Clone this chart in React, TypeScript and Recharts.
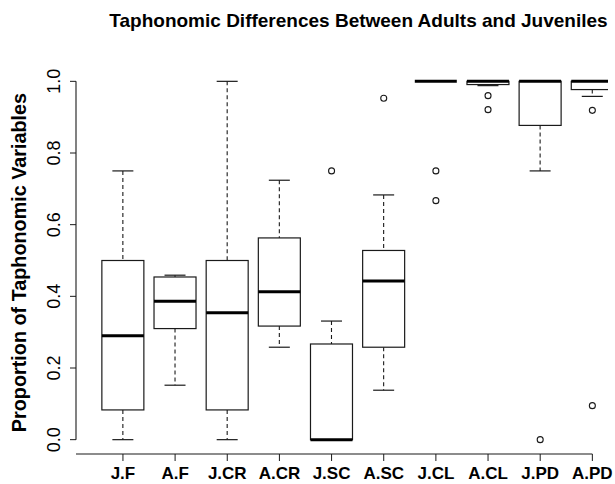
import { Bar, ComposedChart, Label, ReferenceLine, Scatter, XAxis, YAxis } from "recharts";

const categories = ["J.F", "A.F", "J.CR", "A.CR", "J.SC", "A.SC", "J.CL", "A.CL", "J.PD", "A.PD"];
const whiskerLow = [0, 0.152, 0, 0.258, 0, 0.138, 1, 0.988, 0.75, 0.958];
const lowerQuartile = [0.083, 0.31, 0.083, 0.317, 0, 0.258, 1, 0.991, 0.877, 0.977];
const median = [0.29, 0.386, 0.354, 0.413, 0, 0.443, 1, 1, 1, 1];
const upperQuartile = [0.5, 0.454, 0.5, 0.563, 0.267, 0.528, 1, 1, 1, 1];
const whiskerHigh = [0.75, 0.459, 1, 0.724, 0.331, 0.683, 1, 1, 1, 1];
const outlierA = [null, null, null, null, 0.75, 0.953, 0.75, 0.96, 0, 0.919];
const outlierB = [null, null, null, null, null, null, 0.667, 0.921, null, 0.095];
const yTicks = [0, 0.2, 0.4, 0.6, 0.8, 1.0];

const chartData = categories.map((name, i) => ({
  idx: i,
  name,
  range: [whiskerLow[i], whiskerHigh[i]],
  lo: whiskerLow[i],
  q1: lowerQuartile[i],
  med: median[i],
  q3: upperQuartile[i],
  hi: whiskerHigh[i],
  outA: outlierA[i],
  outB: outlierB[i],
}));

const FONT = "'Liberation Sans', Arial, Helvetica, sans-serif";
const INK = "#1a1a1a";

function BoxShape(props: any) {
  const { x, y, width, height, payload } = props;
  const { lo, q1, med, q3, hi } = payload;
  const top = Math.min(y, y + height);
  const h = Math.abs(height);
  const span = hi - lo;
  const k = span > 0 ? h / span : 0;
  const py = (v: number) => top + (hi - v) * k;
  const cx = x + width / 2;
  const cap = width / 4;
  return (
    <g stroke={INK} fill="none">
      <line x1={cx} x2={cx} y1={py(hi)} y2={py(q3)} strokeWidth={1.1} strokeDasharray="4 3" />
      <line x1={cx} x2={cx} y1={py(q1)} y2={py(lo)} strokeWidth={1.1} strokeDasharray="4 3" />
      <line x1={cx - cap} x2={cx + cap} y1={py(hi)} y2={py(hi)} strokeWidth={1.2} />
      <line x1={cx - cap} x2={cx + cap} y1={py(lo)} y2={py(lo)} strokeWidth={1.2} />
      <rect x={x} y={py(q3)} width={width} height={py(q1) - py(q3)} fill="#fff" strokeWidth={1.2} />
      <line x1={x} x2={x + width} y1={py(med)} y2={py(med)} strokeWidth={3} stroke="#000" />
    </g>
  );
}

function makeDot(key: "outA" | "outB") {
  return (props: any) => {
    const { cx, cy, payload } = props;
    const v = payload ? payload[key] : null;
    if (v == null || cy == null || isNaN(cy)) return <g />;
    return <circle cx={cx} cy={cy} r={3} fill="none" stroke={INK} strokeWidth={1.1} />;
  };
}

function XTick(props: any) {
  const { x, y, payload } = props;
  return (
    <text x={x} y={y + 16} textAnchor="middle" fontFamily={FONT} fontWeight="bold" fontSize={17} fill="#000">
      {categories[payload.value]}
    </text>
  );
}

function YTick(props: any) {
  const { x, y, payload } = props;
  const bx = x - 8;
  return (
    <text
      x={bx}
      y={y}
      textAnchor="middle"
      transform={`rotate(-90, ${bx}, ${y})`}
      fontFamily={FONT}
      fontSize={18}
      fill="#000"
    >
      {payload.value.toFixed(1)}
    </text>
  );
}

function YTitle(props: any) {
  const { viewBox } = props;
  const bx = viewBox.x + 26;
  const cy = viewBox.y + viewBox.height / 2 + 2;
  return (
    <text
      x={bx}
      y={cy}
      textAnchor="middle"
      transform={`rotate(-90, ${bx}, ${cy})`}
      fontFamily={FONT}
      fontWeight="bold"
      fontSize={19.8}
      fill="#000"
    >
      Proportion of Taphonomic Variables
    </text>
  );
}

export default function App() {
  return (
    <div style={{ position: "absolute", left: 0, top: 0, width: 615, height: 484, background: "#fff" }}>
      <div
        style={{
          position: "absolute",
          left: 100,
          width: 517,
          top: 11,
          textAlign: "center",
          fontFamily: FONT,
          fontWeight: "bold",
          fontSize: 19,
          lineHeight: "20px",
          color: "#000",
          whiteSpace: "nowrap",
        }}
      >
        Taphonomic Differences Between Adults and Juveniles
      </div>
      <ComposedChart width={615} height={484} data={chartData} margin={{ top: 67, right: 7, bottom: 0, left: 0 }}>
        <XAxis
          dataKey="idx"
          type="number"
          domain={[-0.9, 9.3]}
          ticks={[0, 1, 2, 3, 4, 5, 6, 7, 8, 9]}
          allowDataOverflow
          height={30}
          axisLine={false}
          tickSize={7}
          tickLine={{ stroke: INK }}
          tick={<XTick />}
          interval={0}
        />
        <YAxis
          type="number"
          domain={[-0.04, 1.04]}
          ticks={yTicks}
          allowDataOverflow
          width={76}
          axisLine={false}
          tickSize={6}
          tickLine={{ stroke: INK }}
          tick={<YTick />}
        >
          <Label content={<YTitle />} />
        </YAxis>
        <ReferenceLine
          segment={[{ x: -0.9, y: -0.04 }, { x: 9, y: -0.04 }]}
          stroke={INK}
          strokeWidth={1.1}
          ifOverflow="visible"
        />
        <ReferenceLine
          segment={[{ x: -0.9, y: 0 }, { x: -0.9, y: 1 }]}
          stroke={INK}
          strokeWidth={1.1}
          ifOverflow="visible"
        />
        <Bar dataKey="range" barSize={42} shape={<BoxShape />} isAnimationActive={false} />
        <Scatter dataKey="outA" shape={makeDot("outA")} isAnimationActive={false} />
        <Scatter dataKey="outB" shape={makeDot("outB")} isAnimationActive={false} />
      </ComposedChart>
    </div>
  );
}
